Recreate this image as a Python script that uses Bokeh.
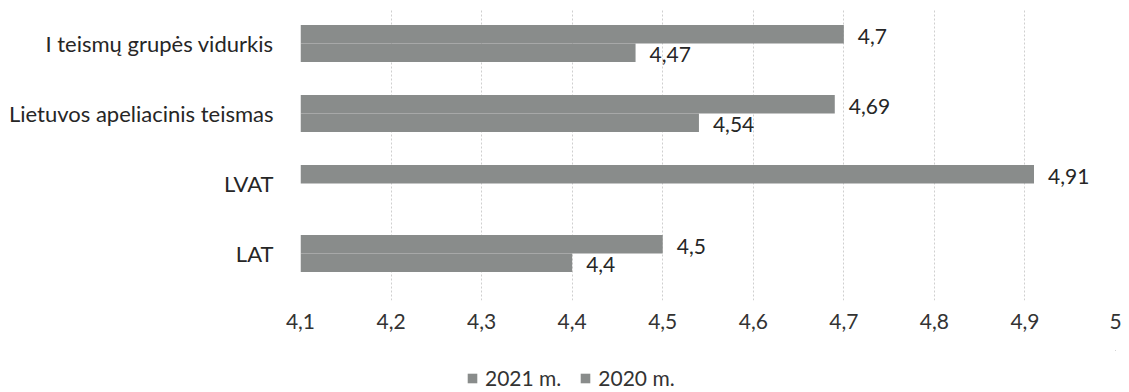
from bokeh.plotting import figure
from bokeh.layouts import column
from bokeh.models import (ColumnDataSource, Range1d, FixedTicker, Legend, LegendItem,
                          CustomJSTickFormatter)
from bokeh.transform import dodge
from bokeh.core.properties import value
from bokeh.embed import file_html
from bokeh.resources import INLINE

# --- data -------------------------------------------------------------
categories = ["I teismų grupės vidurkis", "Lietuvos apeliacinis teismas", "LVAT", "LAT"]
values_2021 = [4.7, 4.69, 4.91, 4.5]
values_2020 = [4.47, 4.54, None, 4.4]          # no 2020 value for LVAT
series_names = ["2021 m.", "2020 m."]
x_ticks = [4.1, 4.2, 4.3, 4.4, 4.5, 4.6, 4.7, 4.8, 4.9, 5.0]

# --- style ------------------------------------------------------------
FONT = "Lato"
BAR_COLOR = "#898c8b"
TEXT_COLOR = "#262626"
GRID_COLOR = "#cfcfcf"
X_MIN, X_MAX = 4.1, 5.0
BAR_H = 0.265
OFFSET = 0.132
WIDTH = 1129
CHART_H, LEGEND_H = 350, 42
LEFT_BORDER, RIGHT_BORDER = 300, 14


def fmt(v):
    return f"{v:g}".replace(".", ",")


n = len(categories)
positions = [n - 0.5 - i for i in range(n)]   # first category on top


def series_source(vals):
    rows = [(p, v) for p, v in zip(positions, vals) if v is not None]
    return ColumnDataSource(dict(
        pos=[r[0] for r in rows],
        val=[r[1] for r in rows],
        label=[fmt(r[1]) for r in rows],
    ))


src_2021 = series_source(values_2021)
src_2020 = series_source(values_2020)

p = figure(
    width=WIDTH, height=CHART_H,
    x_range=Range1d(X_MIN, X_MAX),
    y_range=Range1d(-0.171, 4.0),
    output_backend="svg", toolbar_location=None,
    min_border_left=LEFT_BORDER, min_border_right=RIGHT_BORDER,
    min_border_top=8, min_border_bottom=CHART_H - 300,
)
p.outline_line_color = None
p.background_fill_color = "white"
p.border_fill_color = "white"

p.hbar(y=dodge("pos", OFFSET), left=X_MIN, right="val", height=BAR_H,
       source=src_2021, fill_color=BAR_COLOR, line_color=None)
p.hbar(y=dodge("pos", -OFFSET), left=X_MIN, right="val", height=BAR_H,
       source=src_2020, fill_color=BAR_COLOR, line_color=None)

for src, off in ((src_2021, OFFSET), (src_2020, -OFFSET)):
    p.text(x="val", y=dodge("pos", off), text="label", source=src,
           x_offset=14, y_offset=2, text_baseline="middle", text_align="left",
           text_font=value(FONT), text_font_size="21px", text_color=TEXT_COLOR)

# x axis with comma decimals
p.xaxis.ticker = FixedTicker(ticks=x_ticks)
p.xaxis.formatter = CustomJSTickFormatter(
    code="return tick.toFixed(1).replace('.0', '').replace('.', ',');")
p.xaxis.axis_line_color = None
p.xaxis.major_tick_line_color = None
p.xaxis.minor_tick_line_color = None
p.xaxis.major_label_standoff = 7
p.xaxis.major_label_text_font = FONT
p.xaxis.major_label_text_font_size = "21px"
p.xaxis.major_label_text_color = "#333333"

# y axis showing category names
p.yaxis.ticker = FixedTicker(ticks=positions)
p.yaxis.major_label_overrides = {pos: name for pos, name in zip(positions, categories)}
p.yaxis.axis_line_color = None
p.yaxis.major_tick_line_color = None
p.yaxis.minor_tick_line_color = None
p.yaxis.major_label_standoff = 21
p.yaxis.major_label_text_font = FONT
p.yaxis.major_label_text_font_size = "22px"
p.yaxis.major_label_text_color = TEXT_COLOR

p.xgrid.ticker = FixedTicker(ticks=x_ticks)
p.xgrid.grid_line_color = GRID_COLOR
p.xgrid.grid_line_dash = "2 2"
p.ygrid.grid_line_color = None

# legend strip under the chart; it reuses the chart's bar sources so the
# swatches get real glyph data, while its ranges keep those bars out of view
lg = figure(
    width=WIDTH, height=LEGEND_H,
    x_range=Range1d(-20, -10), y_range=Range1d(-20, -10),
    output_backend="svg", toolbar_location=None,
    min_border_left=LEFT_BORDER, min_border_right=RIGHT_BORDER,
    min_border_top=0, min_border_bottom=0,
)
lg.xaxis.visible = False
lg.yaxis.visible = False
lg.xgrid.visible = False
lg.ygrid.visible = False
lg.outline_line_color = None
lg.background_fill_color = "white"
lg.border_fill_color = "white"

swatches = [
    lg.hbar(y=dodge("pos", OFFSET), left=X_MIN, right="val", height=BAR_H,
            source=src_2021, fill_color=BAR_COLOR, line_color=None),
    lg.hbar(y=dodge("pos", -OFFSET), left=X_MIN, right="val", height=BAR_H,
            source=src_2020, fill_color=BAR_COLOR, line_color=None),
]

legend = Legend(
    items=[LegendItem(label=name, renderers=[r]) for name, r in zip(series_names, swatches)],
    orientation="horizontal", location=(166, 2),
    glyph_width=12, glyph_height=12, label_standoff=7, spacing=18,
    padding=0, margin=0, border_line_color=None, background_fill_alpha=0,
    label_text_font=FONT, label_text_font_size="21px", label_text_color="#333333",
)
lg.add_layout(legend, "center")

layout = column(p, lg, spacing=0)
open("out.html", "w").write(file_html(layout, INLINE))
